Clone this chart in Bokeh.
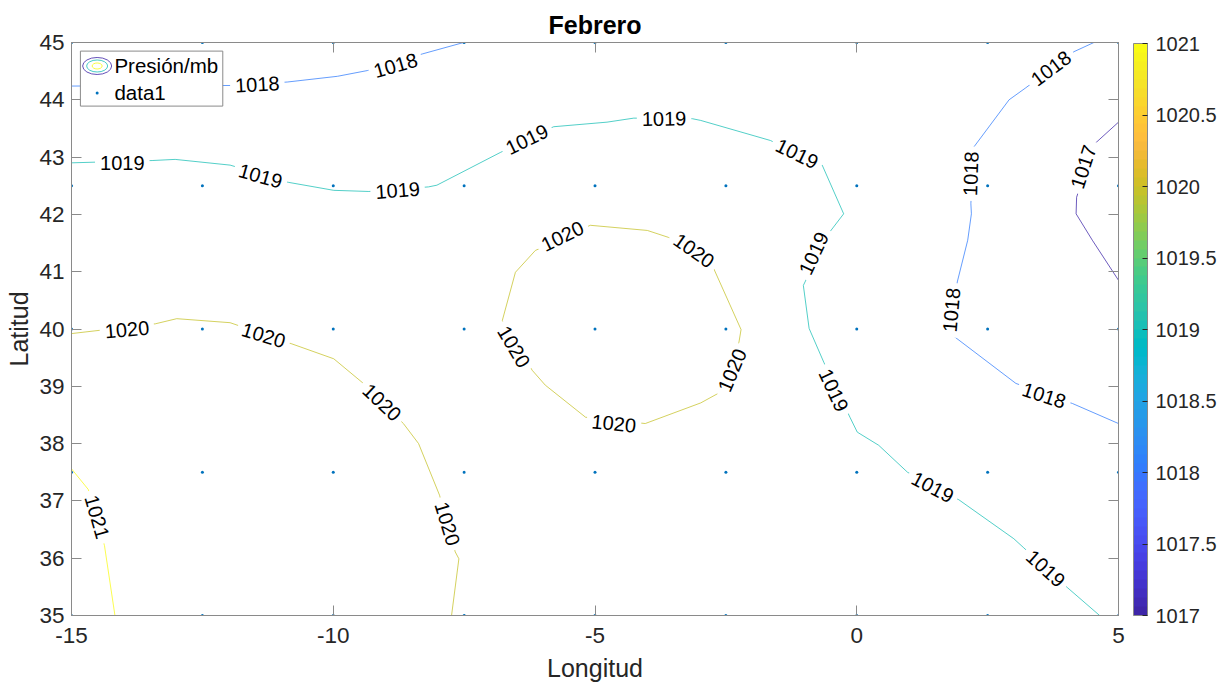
import numpy as np
from bokeh.plotting import figure
from bokeh.models import (Range1d, FixedTicker, LinearAxis, ColorBar, LinearColorMapper,
                          BoxAnnotation, Label, ColumnDataSource)
from bokeh.core.properties import value
from bokeh.embed import file_html
from bokeh.resources import INLINE

# ---------------- data ----------------
TITLE = "Febrero"
X_LABEL = "Longitud"
Y_LABEL = "Latitud"
X_TICKS = [-15, -10, -5, 0, 5]
X_TICK_LABELS = ["-15", "-10", "-5", "0", "5"]
Y_TICKS = [35, 36, 37, 38, 39, 40, 41, 42, 43, 44, 45]
CB_TICKS = [1017, 1017.5, 1018, 1018.5, 1019, 1019.5, 1020, 1020.5, 1021]
CB_LABELS = ["1017", "1017.5", "1018", "1018.5", "1019", "1019.5", "1020", "1020.5", "1021"]
LEVEL_MIN = 1017
LEVEL_MAX = 1021

# station grid (data1)
LON_GRID = [-15, -12.5, -10, -7.5, -5, -2.5, 0, 2.5, 5]
LAT_GRID = [35, 37.5, 40, 42.5, 45]

# contour polylines (lon, lat)
C1017_X = [5.00, 4.53, 4.20, 4.19, 4.50, 5.00]
C1017_Y = [43.61, 43.22, 42.30, 42.01, 41.55, 40.85]

C1018A_X = [-15.00, -11.91, -10.88, -9.92, -9.35, -8.30, -7.51]
C1018A_Y = [44.24, 44.25, 44.31, 44.41, 44.51, 44.80, 45.00]

C1018B_X = [4.53, 4.15, 3.23, 2.91, 2.24, 2.18, 2.19, 2.12, 1.92, 1.83, 3.04, 4.12, 5.00]
C1018B_Y = [45.00, 44.84, 44.21, 44.00, 43.18, 42.19, 42.01, 41.55, 40.82, 39.89, 39.05, 38.70, 38.35]

C1019_X = [-15.00, -13.46, -13.02, -11.97, -10.86, -9.99, -9.32, -8.18, -8.02, -6.81, -5.79,
           -4.77, -4.26, -3.14, -2.98, -1.65, -0.66, -0.25, -0.56, -1.02, -0.91, -0.63,
           -0.13, 0.01, 0.42, 0.97, 1.95, 3.00, 3.18, 4.02, 4.64]
C1019_Y = [42.90, 42.94, 42.96, 42.86, 42.56, 42.42, 42.40, 42.48, 42.51, 43.08, 43.53,
           43.61, 43.68, 43.67, 43.64, 43.29, 42.86, 42.01, 41.64, 40.76, 40.01, 39.42,
           38.46, 38.20, 37.97, 37.50, 37.02, 36.34, 36.19, 35.49, 35.00]

C1020A_X = [-5.09, -4.00, -3.60, -2.73, -2.21, -2.25, -2.66, -2.98, -4.04, -5.18, -5.95,
            -6.20, -6.77, -6.52, -6.14, -5.09]
C1020A_Y = [41.81, 41.72, 41.60, 41.05, 39.99, 39.77, 38.87, 38.71, 38.35, 38.46, 39.02,
            39.28, 40.15, 40.99, 41.37, 41.81]

C1020B_X = [-15.00, -13.40, -12.99, -11.97, -10.79, -9.99, -9.45, -8.66, -8.37, -7.97,
            -7.67, -7.60, -7.74]
C1020B_Y = [39.92, 40.09, 40.18, 40.11, 39.74, 39.48, 39.07, 38.35, 38.00, 37.10,
            36.11, 35.99, 35.00]

C1021_X = [-15.00, -14.68, -14.37, -14.17]
C1021_Y = [37.56, 37.20, 36.22, 35.00]

CONTOURS = [
    (1017, C1017_X, C1017_Y),
    (1018, C1018A_X, C1018A_Y),
    (1018, C1018B_X, C1018B_Y),
    (1019, C1019_X, C1019_Y),
    (1020, C1020A_X, C1020A_Y),
    (1020, C1020B_X, C1020B_Y),
    (1021, C1021_X, C1021_Y),
]

# contour labels
LABEL_TEXT = ["1018", "1018", "1018", "1018", "1018", "1018",
              "1017",
              "1019", "1019", "1019", "1019", "1019", "1019", "1019", "1019", "1019", "1019",
              "1020", "1020", "1020", "1020", "1020", "1020", "1020", "1020", "1020",
              "1021"]
LABEL_X = [-11.45, -8.81, 3.71, 2.18, 1.81, 3.58,
           4.33,
           -14.03, -11.39, -8.77, -6.30, -3.68, -1.14, -0.82, -0.44, 1.45, 3.61,
           -5.62, -3.11, -2.38, -4.64, -6.55, -13.94, -11.33, -9.07, -7.82,
           -14.51]
LABEL_Y = [44.27, 44.60, 44.55, 42.71, 40.33, 38.84,
           42.83,
           42.90, 42.67, 42.42, 43.31, 43.67, 43.06, 41.32, 38.93, 37.24, 35.82,
           41.62, 41.37, 39.28, 38.35, 39.69, 39.99, 39.89, 38.72, 36.60,
           36.72]
LABEL_ANGLE = [3, 16, 37, 88, 85, -18,
               72,
               0, -16, 4, 26, 1, -26, 65, -65, -28, -42,
               26, -35, 67, -6, -59, 5, -17, -43, -73,
               -74]

LEGEND_LABELS = ["Presión/mb", "data1"]

# ---------------- style ----------------
PARULA = ["#3e26a8", "#402ab4", "#422ec0", "#4332cb", "#4537d5", "#463cde", "#4741e5", "#4747eb",
          "#484df0", "#4852f4", "#4758f8", "#465efb", "#4563fd", "#4269fe", "#3e6fff", "#3875fe",
          "#327cfc", "#2f81fa", "#2e87f7", "#2d8cf3", "#2b91ef", "#2797eb", "#259be8", "#23a0e5",
          "#20a5e3", "#1ca9df", "#18addb", "#12b1d6", "#08b5d0", "#01b8ca", "#02bac3", "#0bbdbd",
          "#19bfb6", "#24c1ae", "#2cc4a7", "#31c69f", "#37c897", "#3fca8e", "#4acb84", "#57cc7a",
          "#64cd6f", "#72cd64", "#81cc59", "#8fcb4e", "#9dc943", "#abc739", "#b9c431", "#c5c22a",
          "#d1bf27", "#dcbd29", "#e6bb2d", "#f0ba36", "#f8ba3d", "#febe3c", "#fec338", "#fec934",
          "#fccf30", "#fad62d", "#f7dc2a", "#f5e327", "#f5e924", "#f6ef20", "#f7f51b", "#f9fb15"]

FONT = "Liberation Sans"
AXIS_GRAY = "#8a8a8a"
TEXT_DARK = "#262626"


def level_color(lvl):
    i = int(round((lvl - LEVEL_MIN) / (LEVEL_MAX - LEVEL_MIN) * (len(PARULA) - 1)))
    return PARULA[i]


p = figure(width=1225, height=686, x_range=Range1d(X_TICKS[0], X_TICKS[-1]),
           y_range=Range1d(Y_TICKS[0], Y_TICKS[-1]),
           output_backend="svg", toolbar_location=None,
           min_border_left=71, min_border_right=107, min_border_top=42, min_border_bottom=71)
p.grid.visible = False
p.outline_line_color = AXIS_GRAY
p.background_fill_color = "white"
p.border_fill_color = "white"

p.title.text = TITLE
p.title.align = "center"
p.title.text_font = FONT
p.title.text_font_size = "25px"
p.title.text_font_style = "bold"
p.title.text_color = "black"
p.title.standoff = 8

for ax in (p.xaxis[0], p.yaxis[0]):
    ax.major_tick_in = 10
    ax.major_tick_out = 0
    ax.minor_tick_line_color = None
    ax.axis_line_color = AXIS_GRAY
    ax.major_tick_line_color = AXIS_GRAY
    ax.major_label_text_font = FONT
    ax.major_label_text_font_size = "22.5px"
    ax.major_label_text_color = TEXT_DARK
    ax.axis_label_text_font = FONT
    ax.axis_label_text_font_size = "25px"
    ax.axis_label_text_font_style = "normal"
    ax.axis_label_text_color = TEXT_DARK

p.xaxis[0].ticker = FixedTicker(ticks=X_TICKS)
p.xaxis[0].major_label_overrides = {t: s for t, s in zip(X_TICKS, X_TICK_LABELS)}
p.yaxis[0].ticker = FixedTicker(ticks=Y_TICKS)
p.xaxis[0].axis_label = X_LABEL
p.yaxis[0].axis_label = Y_LABEL
p.xaxis[0].major_label_standoff = 12
p.xaxis[0].axis_label_standoff = 8
p.yaxis[0].major_label_standoff = 7
p.yaxis[0].axis_label_standoff = 3

# mirrored (box) ticks on top and right, without labels
for loc, ticks in (("above", X_TICKS), ("right", Y_TICKS)):
    ax = LinearAxis(ticker=FixedTicker(ticks=ticks), major_tick_in=10, major_tick_out=0,
                    minor_tick_line_color=None, axis_line_color=AXIS_GRAY,
                    major_tick_line_color=AXIS_GRAY, major_label_text_font_size="1px",
                    major_label_text_color=None, major_label_standoff=0)
    p.add_layout(ax, loc)

# contour lines
for lvl, xs, ys in CONTOURS:
    p.line(xs, ys, line_color=level_color(lvl), line_width=1, line_alpha=0.75)

# station grid points
gx = [x for y in LAT_GRID for x in LON_GRID]
gy = [y for y in LAT_GRID for x in LON_GRID]
p.scatter(gx, gy, size=3, color="#0072BD", line_color=None)

# contour labels
lab_src = ColumnDataSource(dict(x=LABEL_X, y=LABEL_Y, text=LABEL_TEXT,
                                angle=list(np.deg2rad(LABEL_ANGLE))))
p.text(x="x", y="y", text="text", angle="angle", source=lab_src,
       text_font=value(FONT), text_font_size="20px", text_color="black",
       text_align="center", text_baseline="middle",
       background_fill_color="white", background_fill_alpha=1.0, padding=5)

# legend (MATLAB style box)
p.add_layout(BoxAnnotation(left=-14.83, right=-12.11, top=44.85, bottom=43.89,
                           fill_color="white", fill_alpha=1.0,
                           line_color=AXIS_GRAY, line_width=1, line_alpha=1.0))
p.add_layout(Label(x=-14.18, y=44.59, text=LEGEND_LABELS[0], text_font=FONT,
                   text_font_size="20.5px", text_baseline="middle", text_color="black"))
p.add_layout(Label(x=-14.18, y=44.12, text=LEGEND_LABELS[1], text_font=FONT,
                   text_font_size="20.5px", text_baseline="middle", text_color="black"))
icon = p.ellipse(x=[-14.51] * 3, y=[44.59] * 3, width=[29, 21, 10], height=[17, 12, 6],
                 width_units="screen", height_units="screen", fill_color=None,
                 line_color=[level_color(1017), level_color(1019), level_color(1021)],
                 line_width=1, line_alpha=0.8)
icon.level = "overlay"
dot = p.scatter([-14.51], [44.12], size=3, color="#0072BD", line_color=None)
dot.level = "overlay"

# colorbar
mapper = LinearColorMapper(palette=PARULA, low=LEVEL_MIN, high=LEVEL_MAX)
cb = ColorBar(color_mapper=mapper, ticker=FixedTicker(ticks=CB_TICKS),
              major_label_overrides={t: l for t, l in zip(CB_TICKS, CB_LABELS)},
              width=14, height=572, location=(15, 0), padding=0, margin=0,
              major_tick_in=5, major_tick_out=0, major_tick_line_color=TEXT_DARK,
              minor_tick_line_color=None, bar_line_color=AXIS_GRAY, bar_line_width=1,
              label_standoff=8, major_label_text_font=FONT, major_label_text_font_size="20px",
              major_label_text_color=TEXT_DARK, border_line_color=None,
              background_fill_color=None)
p.add_layout(cb, "right")

open("out.html", "w").write(file_html(p, INLINE))
